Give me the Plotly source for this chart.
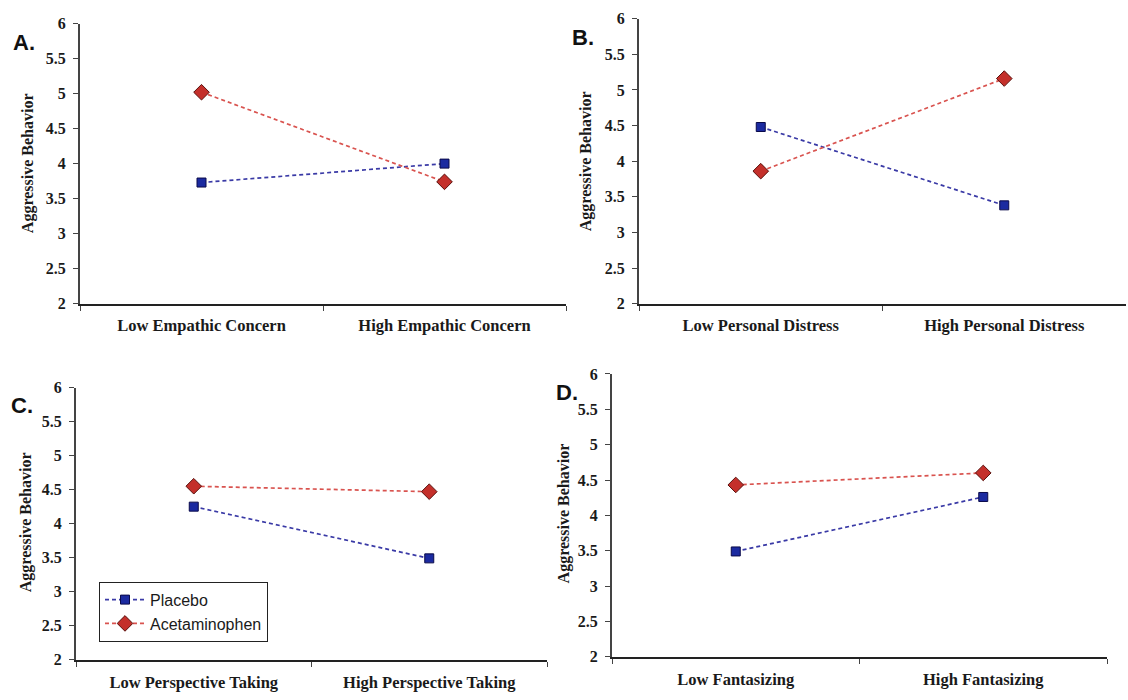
import plotly.graph_objects as go

# ---- data ----
cats_A = ["Low Empathic Concern", "High Empathic Concern"]
cats_B = ["Low Personal Distress", "High Personal Distress"]
cats_C = ["Low Perspective Taking", "High Perspective Taking"]
cats_D = ["Low Fantasizing", "High Fantasizing"]

placebo_A = [3.73, 4.00]
acet_A = [5.02, 3.74]
placebo_B = [4.48, 3.38]
acet_B = [3.86, 5.16]
placebo_C = [4.25, 3.49]
acet_C = [4.55, 4.47]
placebo_D = [3.49, 4.26]
acet_D = [4.43, 4.60]

y_ticks = [2, 2.5, 3, 3.5, 4, 4.5, 5, 5.5, 6]
panel_letters = ["A.", "B.", "C.", "D."]
y_title = "Aggressive Behavior"
series_names = ["Placebo", "Acetaminophen"]

W, H = 1128, 700
# panel pixel boxes: (x0, x1, ytop, ybottom)
boxes = [(80, 566, 16, 303), (639, 1126, 11, 303), (76, 547, 389, 668), (612, 1107, 375, 665)]
letter_pos = [(24, 35), (583, 30), (22, 407), (567, 394)]
ytitle_pos = [(28, 159), (586, 157), (26, 527), (564, 518)]

cats = [cats_A, cats_B, cats_C, cats_D]
placebo = [placebo_A, placebo_B, placebo_C, placebo_D]
acet = [acet_A, acet_B, acet_C, acet_D]

serif = "Liberation Serif, Times New Roman, serif"
sans = "Liberation Sans, Arial, sans-serif"
txt = "#1a1a1a"

fig = go.Figure()
layout = dict(
    width=W, height=H, margin=dict(l=0, r=0, t=0, b=0),
    paper_bgcolor="white", plot_bgcolor="white",
    showlegend=True,
    legend=dict(x=99 / W, y=1 - 588 / H, xanchor="left", yanchor="top",
                bordercolor="#222", borderwidth=1, bgcolor="white",
                font=dict(family=sans, size=16, color=txt),
                tracegroupgap=0, itemwidth=40),
)
annotations = []
for i in range(4):
    ax = "" if i == 0 else str(i + 1)
    x0, x1, yt, yb = boxes[i]
    fig.add_trace(go.Scatter(
        x=cats[i], y=placebo[i], name=series_names[0], legendgroup="p",
        showlegend=(i == 2), xaxis="x" + ax, yaxis="y" + ax,
        mode="lines+markers",
        line=dict(color="#3a3aa6", width=1.7, dash="4px,3px"),
        marker=dict(symbol="square", size=9, color="#1b2aa0", line=dict(color="#0a0a4a", width=1))))
    fig.add_trace(go.Scatter(
        x=cats[i], y=acet[i], name=series_names[1], legendgroup="a",
        showlegend=(i == 2), xaxis="x" + ax, yaxis="y" + ax,
        mode="lines+markers",
        line=dict(color="#d9534f", width=1.7, dash="4px,3px"),
        marker=dict(symbol="diamond", size=12, color="#c4302b", line=dict(color="#5a100c", width=1))))
    layout["xaxis" + ax] = dict(
        domain=[x0 / W, x1 / W], anchor="y" + ax, type="category",
        range=[-0.5, 1.5], showline=True, linecolor="#222", linewidth=2,
        ticks="outside", tickson="boundaries", ticklen=5, tickcolor="#444",
        tickvals=cats[i], ticktext=["<b>" + c + "</b>" for c in cats[i]],
        showgrid=False, zeroline=False, ticklabelstandoff=6,
        tickfont=dict(family=serif, size=16.5, color=txt))
    layout["yaxis" + ax] = dict(
        domain=[1 - yb / H, 1 - yt / H], anchor="x" + ax, range=[2, 6],
        tickvals=y_ticks, ticktext=["<b>%g</b>" % v for v in y_ticks],
        showline=True, linecolor="#444", linewidth=2,
        ticks="outside", ticklen=5, tickcolor="#444",
        showgrid=False, zeroline=False, ticklabelstandoff=4,
        tickfont=dict(family=serif, size=16, color=txt))
    lx, ly = letter_pos[i]
    annotations.append(dict(text="<b>" + panel_letters[i] + "</b>", x=lx / W, y=1 - ly / H,
                            xref="paper", yref="paper", showarrow=False,
                            xanchor="center", yanchor="middle",
                            font=dict(family=sans, size=22, color="#111")))
    tx, ty = ytitle_pos[i]
    annotations.append(dict(text="<b>" + y_title + "</b>", x=tx / W, y=1 - ty / H,
                            xref="paper", yref="paper", showarrow=False, textangle=-90,
                            xanchor="center", yanchor="middle",
                            font=dict(family=serif, size=16, color=txt)))
layout["annotations"] = annotations
fig.update_layout(**layout)
fig.write_html("out.html")
